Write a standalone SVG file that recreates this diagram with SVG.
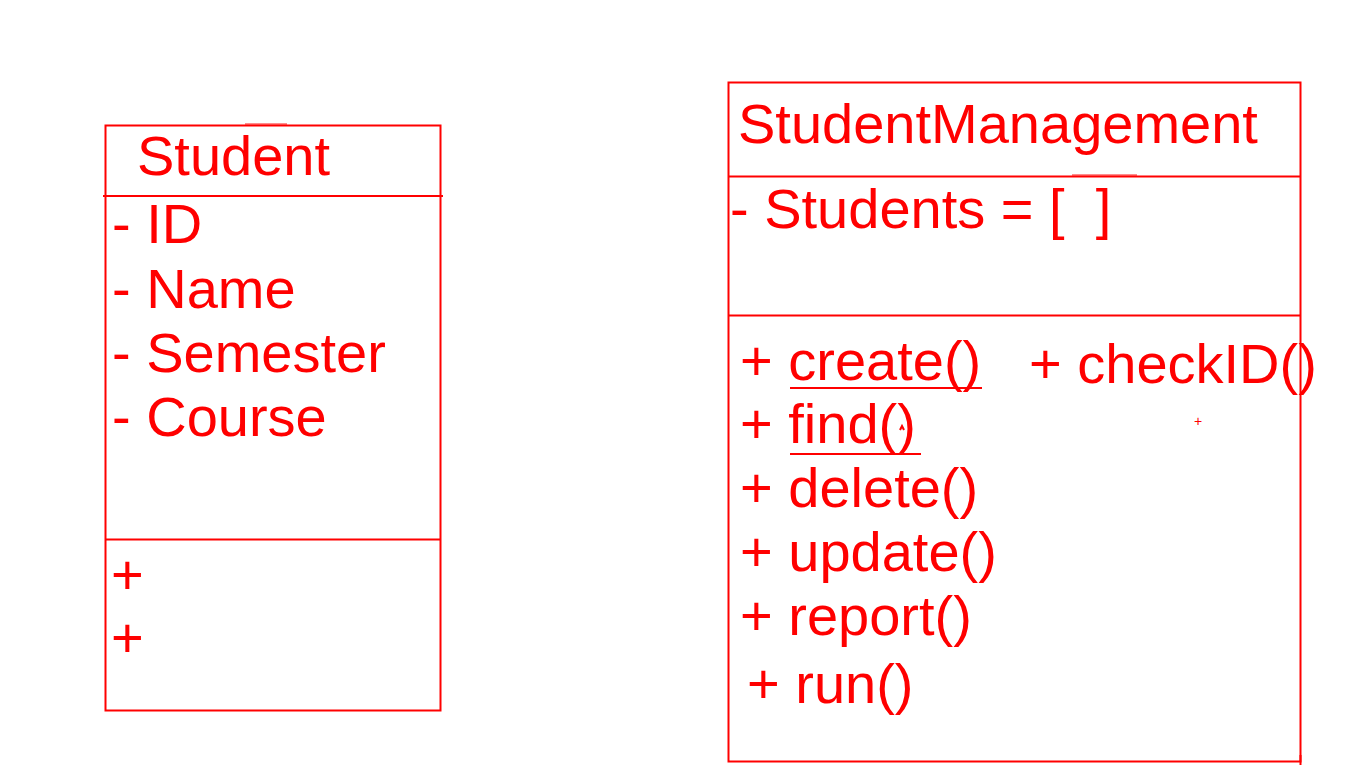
<svg xmlns="http://www.w3.org/2000/svg" width="1366" height="768" viewBox="0 0 1366 768">
<style>
.box{fill:none;stroke:#ff0000;stroke-width:2}
.ln{stroke:#ff0000;stroke-width:2;fill:none}
.tick{stroke:#ff0000;stroke-width:1.5;stroke-opacity:0.6;fill:none}
.t{font-family:"Liberation Sans",Arial,sans-serif;font-size:56px;fill:#ff0000}
.s{font-family:"Liberation Sans",Arial,sans-serif;font-size:14px;fill:#ff0000}
</style>
<rect width="1366" height="768" fill="#ffffff"/>
<g id="student">
<rect class="box" x="105.5" y="125.5" width="335" height="585"/>
<line class="ln" x1="103" y1="196" x2="443" y2="196"/>
<line class="ln" x1="105" y1="539.5" x2="440" y2="539.5"/>
<line class="tick" x1="245" y1="124" x2="287" y2="124"/>
<text class="t" x="137" y="175">Student</text>
<text class="t" x="112" y="243">- ID</text>
<text class="t" x="112" y="308">- Name</text>
<text class="t" x="112" y="372">- Semester</text>
<text class="t" x="112" y="436">- Course</text>
<text class="t" x="111" y="594">+</text>
<text class="t" x="111" y="657">+</text>
</g>
<g id="studentmanagement">
<rect class="box" x="728.5" y="82.5" width="572" height="679"/>
<line class="ln" x1="728" y1="176.5" x2="1300" y2="176.5"/>
<line class="tick" x1="1072" y1="175" x2="1137" y2="175"/>
<line class="ln" x1="728" y1="315.5" x2="1300" y2="315.5"/>
<line class="ln" x1="1300.5" y1="755" x2="1300.5" y2="765"/>
<text class="t" x="738" y="143">StudentManagement</text>
<text class="t" x="730" y="228">- Students = [&#160;&#160;]</text>
<text class="t" x="740" y="380">+ create()</text>
<line class="ln" x1="790" y1="388" x2="982" y2="388"/>
<text class="t" x="1029" y="383">+ checkID()</text>
<text class="s" x="1194" y="426">+</text>
<text class="t" x="740" y="443">+ find()</text>
<line class="ln" x1="790" y1="454" x2="921" y2="454"/>
<polyline class="ln" points="900,430 902,426 904,430" stroke-width="1"/>
<text class="t" x="740" y="507">+ delete()</text>
<text class="t" x="740" y="571">+ update()</text>
<text class="t" x="740" y="635">+ report()</text>
<text class="t" x="747" y="703">+ run()</text>
</g>
<g id="connectors"></g>
</svg>
